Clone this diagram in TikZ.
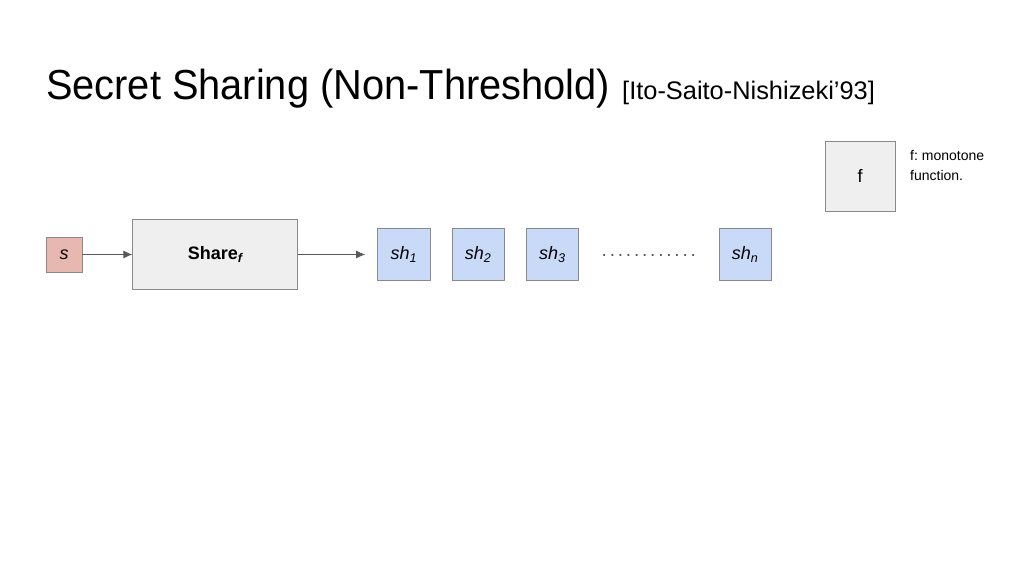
\documentclass[tikz,border=0pt]{standalone}
\usepackage{fontspec}
\setmainfont{Liberation Sans}
\usetikzlibrary{positioning, arrows.meta}
\definecolor{secretred}{HTML}{E6B8AF}
\definecolor{shareblue}{HTML}{C9DAF8}
\definecolor{boxgray}{HTML}{EFEFEF}
\definecolor{linegray}{HTML}{8A8A8A}
\definecolor{arrowgray}{HTML}{595959}
\tikzstyle{secret} = [rectangle, minimum width=36pt, minimum height=35pt, inner sep=0pt, fill=secretred, draw=linegray, line width=0.8pt, font=\fontsize{18}{20}\selectfont\itshape]
\tikzstyle{process} = [rectangle, minimum width=165pt, minimum height=70pt, inner sep=0pt, fill=boxgray, draw=linegray, line width=0.8pt, font=\fontsize{18}{20}\selectfont\bfseries]
\tikzstyle{shr} = [rectangle, minimum width=52.5pt, minimum height=52pt, inner sep=0pt, fill=shareblue, draw=linegray, line width=0.8pt, font=\fontsize{18}{20}\selectfont\itshape]
\tikzstyle{func} = [rectangle, minimum size=70pt, inner sep=0pt, fill=boxgray, draw=linegray, line width=0.8pt, font=\fontsize{18}{20}\selectfont]
\tikzstyle{arrow} = [draw=arrowgray, line width=0.9pt, -{Latex[length=9pt,width=8pt]}]
\tikzstyle{every node}=[node distance = 21pt]

\begin{document}
\frenchspacing
\begin{tikzpicture}[x=1pt, y=-1pt]
		\useasboundingbox (0,0) rectangle (1024,576);
		%标题
		\node (title) [anchor=base west, inner sep=0pt] at (46,99) {\scalebox{0.947}[1]{\fontsize{42}{48}\selectfont Secret Sharing (Non-Threshold)}};
		\node (cite) [anchor=base west, inner sep=0pt] at (622,99) {\fontsize{25.4}{30}\selectfont [Ito-Saito-Nishizeki'93]};
		
		%定义具体形状
		\node (s) [secret] at (64,254.5) {s};
		\node (share) [process, right=50pt of s] {Share\textsubscript{\itshape f}};
		\node (sh1) [shr, right=79pt of share] {sh\textsubscript{1}};
		\node (sh2) [shr, right=21pt of sh1] {sh\textsubscript{2}};
		\node (sh3) [shr, right=21pt of sh2] {sh\textsubscript{3}};
		\node (dots) [right=21pt of sh3, inner sep=0pt, minimum width=97pt, yshift=-1pt, text=arrowgray, font=\fontsize{19}{20}\selectfont] {\hbox to 97pt{\xleaders\hbox to 8.08pt{\hss.\hss}\hfill}};
		\node (shn) [shr, right=21pt of dots, yshift=1pt] {sh\textsubscript{n}};
		\node (f) [func] at (860,176) {f};
		\node (fnote) [anchor=north west, align=left, inner sep=0pt, font=\fontsize{14}{20}\selectfont] at (910,150.5) {f: monotone\\function.};
		
		%连接具体形状
		\draw [arrow](s) -- (share);
		\draw [arrow](share) -- ([xshift=-12pt]sh1.west);
	\end{tikzpicture}
\end{document}
